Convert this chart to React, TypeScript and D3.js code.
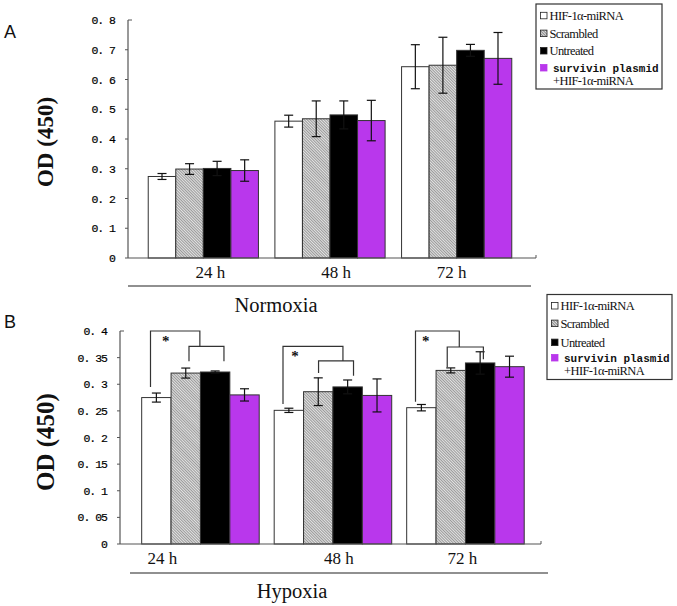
import React from "react";
import * as d3 from "d3";

// ---------- DATA ----------
const categories = ["24 h", "48 h", "72 h"];
const seriesNames = ["HIF-1α-miRNA", "Scrambled", "Untreated", "survivin plasmid"];

// Panel A (Normoxia)
const normMeans = {
  "HIF-1α-miRNA": [0.274, 0.46, 0.643],
  Scrambled: [0.299, 0.468, 0.648],
  Untreated: [0.301, 0.481, 0.698],
  "survivin plasmid": [0.294, 0.462, 0.671],
};
const normErr = {
  "HIF-1α-miRNA": [0.01, 0.02, 0.074],
  Scrambled: [0.018, 0.06, 0.094],
  Untreated: [0.024, 0.047, 0.02],
  "survivin plasmid": [0.036, 0.068, 0.087],
};
const normTicks = [0, 0.1, 0.2, 0.3, 0.4, 0.5, 0.6, 0.7, 0.8];
const normTickLabels = ["0", "0. 1", "0. 2", "0. 3", "0. 4", "0. 5", "0. 6", "0. 7", "0. 8"];

// Panel B (Hypoxia)
const hypoMeans = {
  "HIF-1α-miRNA": [0.275, 0.251, 0.256],
  Scrambled: [0.321, 0.286, 0.326],
  Untreated: [0.323, 0.295, 0.34],
  "survivin plasmid": [0.28, 0.279, 0.333],
};
const hypoErr = {
  "HIF-1α-miRNA": [0.0085, 0.004, 0.006],
  Scrambled: [0.0094, 0.026, 0.0047],
  Untreated: [0.002, 0.013, 0.021],
  "survivin plasmid": [0.0115, 0.031, 0.0197],
};
const hypoTicks = [0, 0.05, 0.1, 0.15, 0.2, 0.25, 0.3, 0.35, 0.4];
const hypoTickLabels = ["0", "0. 05", "0. 1", "0. 15", "0. 2", "0. 25", "0. 3", "0. 35", "0. 4"];

// significance brackets (values in data units, x in bar-width units within group)
const brackets = [
  { group: "24 h", lx: 0.3, r1: 1.61, r2: 2.8, jx: 1.98, top: 0.4, mid: 0.371, lBot: 0.295, r1Bot: 0.343, r2Bot: 0.343, sx: 0.82, sy: 0.386 },
  { group: "48 h", lx: 0.3, r1: 1.51, r2: 2.7, jx: 2.34, top: 0.371, mid: 0.344, lBot: 0.263, r1Bot: 0.321, r2Bot: 0.316, sx: 0.71, sy: 0.358 },
  { group: "72 h", lx: 0.3, r1: 1.38, r2: 2.61, jx: 1.79, top: 0.4, mid: 0.37, lBot: 0.267, r1Bot: 0.332, r2Bot: 0.347, sx: 0.65, sy: 0.386 },
];

// ---------- STYLE ----------
const SERIF = "'Liberation Serif', 'Times New Roman', serif";
const MONO = "'Liberation Mono', 'Courier New', monospace";
const SANS = "'Liberation Sans', Arial, sans-serif";
const MAGENTA = "#b937ec";
const AXIS = "#555";

const fills: Record<string, string> = {
  "HIF-1α-miRNA": "#ffffff",
  Scrambled: "url(#hatch)",
  Untreated: "#000000",
  "survivin plasmid": MAGENTA,
};

type PanelCfg = {
  letter: string;
  letterY: number;
  means: Record<string, number[]>;
  errs: Record<string, number[]>;
  ticks: number[];
  tickLabels: string[];
  yMax: number;
  yTop: number;
  yBottom: number;
  axisX: number;
  axisEnd: number;
  bandRange: [number, number];
  padIn: number;
  catLabelY: number;
  catDx: number[];
  underlineY: number;
  underlineX: [number, number];
  title: string;
  titleX: number;
  titleY: number;
  odX: number;
  odY: number;
  odSize: number;
  legend: { x: number; y: number; w: number; h: number; rows: number[]; extraRow: number };
  withBrackets: boolean;
};

const panelA: PanelCfg = {
  letter: "A",
  letterY: 38,
  means: normMeans,
  errs: normErr,
  ticks: normTicks,
  tickLabels: normTickLabels,
  yMax: 0.8,
  yTop: 20,
  yBottom: 258,
  axisX: 128,
  axisEnd: 536,
  bandRange: [140, 520],
  padIn: 0.13,
  catLabelY: 278,
  catDx: [7, 6, -5],
  underlineY: 286,
  underlineX: [128, 531],
  title: "Normoxia",
  titleX: 276,
  titleY: 312,
  odX: 45,
  odY: 142,
  odSize: 23,
  legend: { x: 536, y: 4, w: 126, h: 85, rows: [15.5, 33.3, 50.7, 67.7], extraRow: 80 },
  withBrackets: false,
};

const panelB: PanelCfg = {
  letter: "B",
  letterY: 328,
  means: hypoMeans,
  errs: hypoErr,
  ticks: hypoTicks,
  tickLabels: hypoTickLabels,
  yMax: 0.4,
  yTop: 331,
  yBottom: 544,
  axisX: 120,
  axisEnd: 541,
  bandRange: [134.2, 531.7],
  padIn: 0.113,
  catLabelY: 564,
  catDx: [-38, 6, -3],
  underlineY: 573,
  underlineX: [130, 548],
  title: "Hypoxia",
  titleX: 292,
  titleY: 598,
  odX: 45,
  odY: 442,
  odSize: 25,
  legend: { x: 547, y: 294.5, w: 125, h: 85, rows: [305.7, 323.3, 342.3, 357.7], extraRow: 370 },
  withBrackets: true,
};

function Panel({ cfg }: { cfg: PanelCfg }) {
  const y = d3.scaleLinear().domain([0, cfg.yMax]).range([cfg.yBottom, cfg.yTop]);
  const x0 = d3
    .scaleBand<string>()
    .domain(categories)
    .range(cfg.bandRange)
    .paddingInner(cfg.padIn)
    .paddingOuter(cfg.padIn / 2);
  const x1 = d3.scaleBand<string>().domain(seriesNames).range([0, x0.bandwidth()]);
  const bw = x1.bandwidth();
  const lg = cfg.legend;

  return (
    <g>
      <text x={4} y={cfg.letterY} fontFamily={SANS} fontSize={18} fill="#111">
        {cfg.letter}
      </text>
      {/* y axis */}
      <line x1={cfg.axisX} x2={cfg.axisX} y1={cfg.yTop} y2={cfg.yBottom} stroke={AXIS} strokeWidth={1.2} />
      {cfg.ticks.map((t, i) => (
        <g key={t}>
          <line
            x1={i === cfg.ticks.length - 1 ? cfg.axisX : cfg.axisX - 3}
            x2={i === cfg.ticks.length - 1 ? cfg.axisX + 4 : cfg.axisX}
            y1={y(t)}
            y2={y(t)}
            stroke={AXIS}
            strokeWidth={1}
          />
          <text
            x={cfg.axisX - 13}
            y={y(t) + 4}
            textAnchor="end"
            fontFamily={MONO}
            fontSize={11.5}
            letterSpacing={-1}
            fill="#000"
            stroke="#000"
            strokeWidth={0.2}
          >
            {cfg.tickLabels[i]}
          </text>
        </g>
      ))}
      {/* bars */}
      {categories.map((c, ci) =>
        seriesNames.map((s) => {
          const v = cfg.means[s][ci];
          const e = cfg.errs[s][ci];
          const bx = (x0(c) as number) + (x1(s) as number);
          const cx = bx + bw / 2;
          return (
            <g key={c + s}>
              <rect
                x={bx}
                y={y(v)}
                width={bw}
                height={y(0) - y(v)}
                fill={fills[s]}
                stroke="#333"
                strokeWidth={1}
              />
              <line x1={cx} x2={cx} y1={y(v + e)} y2={y(v - e)} stroke="#111" strokeWidth={1.2} />
              <line x1={cx - 4.5} x2={cx + 4.5} y1={y(v + e)} y2={y(v + e)} stroke="#111" strokeWidth={1.2} />
              <line x1={cx - 4.5} x2={cx + 4.5} y1={y(v - e)} y2={y(v - e)} stroke="#111" strokeWidth={1.2} />
            </g>
          );
        })
      )}
      {/* x axis */}
      <line x1={cfg.axisX} x2={cfg.axisEnd} y1={cfg.yBottom} y2={cfg.yBottom} stroke={AXIS} strokeWidth={1.2} />
      <line x1={cfg.axisEnd} x2={cfg.axisEnd} y1={cfg.yBottom} y2={cfg.yBottom - 3} stroke={AXIS} strokeWidth={1} />
      {categories.map((c, ci) => (
        <text
          key={c}
          x={(x0(c) as number) + x0.bandwidth() / 2 + cfg.catDx[ci]}
          y={cfg.catLabelY}
          textAnchor="middle"
          fontFamily={SERIF}
          fontSize={17}
          fill="#111"
        >
          {c}
        </text>
      ))}
      <line
        x1={cfg.underlineX[0]}
        x2={cfg.underlineX[1]}
        y1={cfg.underlineY}
        y2={cfg.underlineY}
        stroke="#222"
        strokeWidth={1.2}
      />
      <text x={cfg.titleX} y={cfg.titleY} textAnchor="middle" fontFamily={SERIF} fontSize={20.5} fill="#111">
        {cfg.title}
      </text>
      <text
        transform={`translate(${cfg.odX},${cfg.odY}) rotate(-90)`}
        textAnchor="middle"
        dy="0.35em"
        fontFamily={SERIF}
        fontWeight="bold"
        fontSize={cfg.odSize}
        fill="#111"
      >
        OD (450)
      </text>
      {/* brackets */}
      {cfg.withBrackets &&
        brackets.map((b) => {
          const gx = x0(b.group) as number;
          const lx = gx + b.lx * bw;
          const r1 = gx + b.r1 * bw;
          const r2 = gx + b.r2 * bw;
          const jx = gx + b.jx * bw;
          const d = `M${lx},${y(b.lBot)}V${y(b.top)}H${jx}V${y(b.mid)} M${r1},${y(b.r1Bot)}V${y(b.mid)}H${r2}V${y(b.r2Bot)}`;
          return (
            <g key={b.group}>
              <path d={d} fill="none" stroke="#333" strokeWidth={1.2} />
              <text
                x={gx + b.sx * bw}
                y={y(b.sy) + 8}
                textAnchor="middle"
                fontFamily={SERIF}
                fontWeight="bold"
                fontSize={15}
                fill="#111"
              >
                *
              </text>
            </g>
          );
        })}
      {/* legend */}
      <rect x={lg.x} y={lg.y} width={lg.w} height={lg.h} fill="#fff" stroke="#333" strokeWidth={1.2} />
      {seriesNames.map((s, i) => (
        <g key={s}>
          <rect
            x={lg.x + 4.5}
            y={lg.rows[i] - 3.2}
            width={6.5}
            height={6.5}
            fill={s === "Scrambled" ? "url(#hatchSmall)" : fills[s]}
            stroke={s === "survivin plasmid" ? MAGENTA : "#222"}
            strokeWidth={0.8}
          />
          {s === "survivin plasmid" ? (
            <text x={lg.x + 17} y={lg.rows[i] + 4} fontFamily={MONO} fontWeight="bold" fontSize={11} fill="#111">
              survivin plasmid
            </text>
          ) : (
            <text
              x={lg.x + 13.5}
              y={lg.rows[i] + 4.5}
              fontFamily={SERIF}
              fontSize={12.5}
              letterSpacing={-0.6}
              fill="#111"
            >
              {s}
            </text>
          )}
        </g>
      ))}
      <text x={lg.x + 17} y={lg.extraRow + 4.5} fontFamily={SERIF} fontSize={12.5} letterSpacing={-0.6} fill="#111">
        +HIF-1α-miRNA
      </text>
    </g>
  );
}

export default function App() {
  return (
    <svg width={677} height={606} style={{ display: "block", position: "absolute", left: 0, top: 0, background: "#fff" }}>
      <defs>
        <pattern id="hatch" patternUnits="userSpaceOnUse" width={2} height={2} patternTransform="rotate(-45)">
          <rect width={2} height={2} fill="#e2e2e2" />
          <line x1={0.5} y1={0} x2={0.5} y2={2} stroke="#9a9a9a" strokeWidth={1} />
        </pattern>
        <pattern id="hatchSmall" patternUnits="userSpaceOnUse" width={2} height={2} patternTransform="rotate(-45)">
          <rect width={2} height={2} fill="#e0e0e0" />
          <line x1={0.5} y1={0} x2={0.5} y2={2} stroke="#888" strokeWidth={1} />
        </pattern>
      </defs>
      <rect width={677} height={606} fill="#fff" />
      <Panel cfg={panelA} />
      <Panel cfg={panelB} />
    </svg>
  );
}
